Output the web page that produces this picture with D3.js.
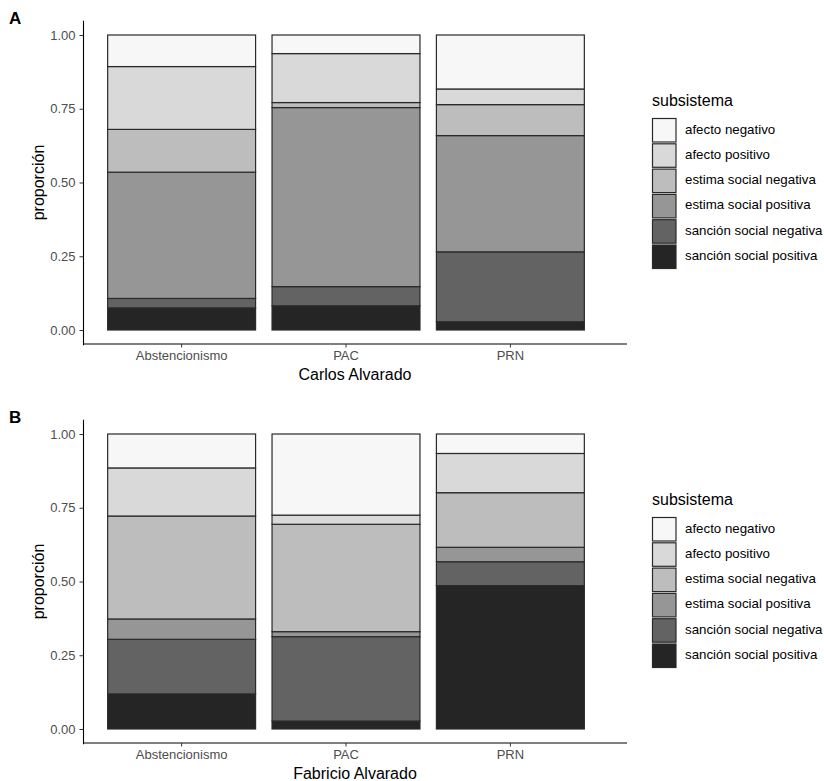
<!DOCTYPE html>
<html>
<head>
<meta charset="utf-8">
<script src="https://cdn.jsdelivr.net/npm/d3@7"></script>
<style>
  body { margin: 0; background: #fff; }
  text { font-family: "Liberation Sans", Arial, sans-serif; }
</style>
</head>
<body>
<svg id="chart" width="824" height="781"></svg>
<script>
const categories = ["Abstencionismo", "PAC", "PRN"];
// stacking order, bottom to top
const subsistemas = ["sanción social positiva", "sanción social negativa", "estima social positiva",
  "estima social negativa", "afecto positivo", "afecto negativo"];
const legendOrder = ["afecto negativo", "afecto positivo", "estima social negativa",
  "estima social positiva", "sanción social negativa", "sanción social positiva"];
const greys = ["#252525", "#636363", "#969696", "#bdbdbd", "#d9d9d9", "#f7f7f7"];

// proportions per category, in stacking order (bottom to top)
const carlosAbst = [0.075, 0.032, 0.428, 0.145, 0.213, 0.107];
const carlosPAC  = [0.082, 0.065, 0.607, 0.017, 0.166, 0.063];
const carlosPRN  = [0.028, 0.237, 0.394, 0.105, 0.053, 0.183];

const fabricioAbst = [0.119, 0.185, 0.069, 0.349, 0.163, 0.115];
const fabricioPAC  = [0.027, 0.286, 0.017, 0.364, 0.031, 0.275];
const fabricioPRN  = [0.486, 0.081, 0.049, 0.185, 0.133, 0.066];

const yTicks = [0, 0.25, 0.5, 0.75, 1];

const color = d3.scaleOrdinal().domain(subsistemas).range(greys);
const svg = d3.select("#chart");

function toRows(series) {
  return categories.map((c, i) => {
    const row = {cat: c};
    subsistemas.forEach((s, j) => row[s] = series[i][j]);
    return row;
  });
}

function drawPanel(offsetY, letter, xTitle, series) {
  const g = svg.append("g").attr("transform", `translate(0,${offsetY})`);
  const rows = toRows(series);
  const stack = d3.stack().keys(subsistemas)(rows);

  const x = d3.scaleBand().domain(categories).range([83, 609])
    .paddingInner(0.1).paddingOuter(0.15);
  const y = d3.scaleLinear().domain([-0.05, 1.05]).range([344.75, 20.25]);

  g.append("text").attr("x", 9).attr("y", 24)
    .style("font-size", "17px").style("font-weight", "bold").text(letter);

  g.selectAll("g.layer").data(stack).join("g")
    .attr("class", "layer")
    .attr("fill", d => color(d.key))
    .selectAll("rect").data(d => d).join("rect")
    .attr("x", d => x(d.data.cat))
    .attr("width", x.bandwidth())
    .attr("y", d => y(d[1]))
    .attr("height", d => y(d[0]) - y(d[1]))
    .attr("stroke", "#2a2a2a")
    .attr("stroke-width", 1.2);

  const yAxis = g.append("g").attr("transform", "translate(83,0)")
    .call(d3.axisLeft(y).tickValues(yTicks).tickFormat(d3.format(".2f"))
      .tickSize(3.5).tickPadding(4).tickSizeOuter(0));

  const xAxis = g.append("g").attr("transform", "translate(0,344)")
    .call(d3.axisBottom(x).tickSize(3.5).tickPadding(3).tickSizeOuter(0));
  xAxis.select(".domain").attr("d", "M83,0H627");

  [yAxis, xAxis].forEach(a => {
    a.select(".domain").attr("stroke", "#000").attr("stroke-width", 1.1);
    a.selectAll(".tick line").attr("stroke", "#333");
    a.selectAll(".tick text").attr("fill", "#4d4d4d").style("font-size", "13px");
  });

  g.append("text")
    .attr("transform", `translate(44,${y(0.5)}) rotate(-90)`)
    .attr("text-anchor", "middle")
    .style("font-size", "16px").text("proporción");

  g.append("text")
    .attr("x", (83 + 627) / 2).attr("y", 380)
    .attr("text-anchor", "middle")
    .style("font-size", "16px").text(xTitle);

  const legend = g.append("g").attr("transform", "translate(652,0)");
  legend.append("text").attr("x", 0).attr("y", 106)
    .style("font-size", "16px").text("subsistema");
  const items = legend.selectAll("g.item").data(legendOrder).join("g")
    .attr("class", "item")
    .attr("transform", (d, i) => `translate(0,${118 + i * 25.3})`);
  items.append("rect")
    .attr("x", 0.5).attr("y", 0.5).attr("width", 23.5).attr("height", 23.5)
    .attr("fill", d => color(d)).attr("stroke", "#2a2a2a").attr("stroke-width", 1.2);
  items.append("text").attr("x", 33).attr("y", 15.5)
    .style("font-size", "13.3px").text(d => d);
}

drawPanel(0, "A", "Carlos Alvarado", [carlosAbst, carlosPAC, carlosPRN]);
drawPanel(399, "B", "Fabricio Alvarado", [fabricioAbst, fabricioPAC, fabricioPRN]);
</script>
</body>
</html>
